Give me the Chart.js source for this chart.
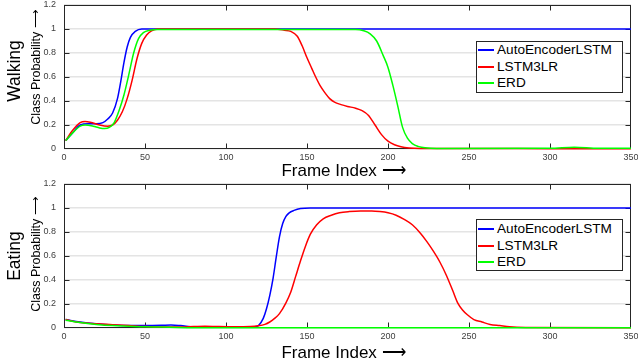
<!DOCTYPE html>
<html><head><meta charset="utf-8">
<script src="https://cdn.jsdelivr.net/npm/chart.js@4/dist/chart.umd.min.js"></script>
<style>
html,body{margin:0;padding:0;background:#fff;}
#wrap{position:relative;width:638px;height:364px;overflow:hidden;font-family:"Liberation Sans",Arial,Helvetica,sans-serif;}
canvas{position:absolute;left:0;}
.lbl{position:absolute;white-space:nowrap;color:#000;line-height:1;transform:translate(-50%,-50%);}
.rot{transform:translate(-50%,-50%) rotate(-90deg);}
.legend{position:absolute;left:476px;width:147px;height:52px;border:1px solid #262626;background:#fff;box-sizing:border-box;}
.row{position:absolute;left:0;height:16px;line-height:16px;font-size:13.6px;color:#000;white-space:nowrap;}
.sw{position:absolute;left:1px;top:7px;width:16px;height:2px;}
.tx{position:absolute;left:20px;top:0;}
</style></head>
<body>
<div id="wrap">
  <canvas id="c1" width="638" height="182" style="top:0"></canvas>
  <canvas id="c2" width="638" height="188" style="top:176px"></canvas>

  <div class="lbl rot" style="left:15px;top:71px;font-size:17.5px;">Walking</div>
  <div class="lbl rot" style="left:35.5px;top:67px;font-size:12.5px;">Class Probability ⟶</div>
  <div class="lbl" style="left:343.5px;top:170px;font-size:17px;">Frame Index ⟶</div>

  <div class="lbl rot" style="left:15px;top:256px;font-size:17.5px;">Eating</div>
  <div class="lbl rot" style="left:35.5px;top:253.5px;font-size:12.5px;">Class Probability ⟶</div>
  <div class="lbl" style="left:343.5px;top:351.5px;font-size:17px;">Frame Index ⟶</div>

  <div class="legend" style="top:41px;">
    <div class="row" style="top:0px;"><div class="sw" style="background:#0000ff"></div><span class="tx">AutoEncoderLSTM</span></div>
    <div class="row" style="top:16.7px;"><div class="sw" style="background:#ff0000"></div><span class="tx">LSTM3LR</span></div>
    <div class="row" style="top:33.3px;"><div class="sw" style="background:#00ff00"></div><span class="tx">ERD</span></div>
  </div>
  <div class="legend" style="top:219px;">
    <div class="row" style="top:0.5px;"><div class="sw" style="background:#0000ff"></div><span class="tx">AutoEncoderLSTM</span></div>
    <div class="row" style="top:17.5px;"><div class="sw" style="background:#ff0000"></div><span class="tx">LSTM3LR</span></div>
    <div class="row" style="top:34px;"><div class="sw" style="background:#00ff00"></div><span class="tx">ERD</span></div>
  </div>
</div>
<script>
// ---------- DATA ----------
const seriesNames = ["AutoEncoderLSTM", "LSTM3LR", "ERD"];
const xTicks = [0, 50, 100, 150, 200, 250, 300, 350];
const yTicks = [0, 0.2, 0.4, 0.6, 0.8, 1, 1.2];

// Walking
const walkBlueX = [1,5,10,15,20,24,27,30,33,35,37,39,41,44,48,60,350];
const walkBlueY = [0.07,0.13,0.2,0.21,0.21,0.22,0.25,0.3,0.42,0.56,0.72,0.85,0.93,0.98,1.0,1.0,1.0];

const walkRedX = [1,5,10,13,17,22,27,30,33,36,39,42,45,48,51,54,58,130,136,140,144,147,150,153,155,158,161,164,167,171,175,180,184,188,192,196,200,204,208,213,220,260,300,350];
const walkRedY = [0.07,0.15,0.22,0.23,0.22,0.2,0.19,0.2,0.24,0.31,0.42,0.57,0.75,0.88,0.95,0.985,1.0,1.0,0.99,0.98,0.94,0.86,0.76,0.67,0.61,0.53,0.47,0.42,0.39,0.37,0.355,0.34,0.32,0.28,0.2,0.12,0.065,0.035,0.018,0.008,0.004,0.004,0.003,0.003];

const walkGreenX = [1,5,10,13,18,22,25,28,31,34,37,40,43,46,49,53,58,180,185,189,193,197,200,203,206,209,212,215,219,223,230,300,315,330,350];
const walkGreenY = [0.07,0.13,0.19,0.2,0.19,0.175,0.17,0.18,0.22,0.32,0.45,0.62,0.8,0.92,0.97,0.99,0.995,0.995,0.985,0.96,0.9,0.78,0.68,0.53,0.36,0.18,0.09,0.045,0.02,0.01,0.005,0.006,0.015,0.006,0.006];

// Eating
const eatBlueX = [1,10,20,30,40,50,60,66,72,80,90,100,110,117,120,123,125,127,129,131,133,135,137,139,142,146,152,350];
const eatBlueY = [0.07,0.05,0.035,0.025,0.02,0.02,0.022,0.025,0.02,0.01,0.008,0.008,0.008,0.01,0.02,0.08,0.16,0.27,0.41,0.59,0.76,0.87,0.93,0.96,0.98,0.995,1.0,1.0];

const eatRedX = [1,10,20,30,40,50,60,70,80,87,95,105,115,120,124,127,130,133,137,140,143,146,149,152,156,160,165,170,176,183,190,195,200,205,210,215,220,224,228,232,236,240,243,246,249,253,258,263,269,275,285,350];
const eatRedY = [0.07,0.045,0.035,0.028,0.02,0.012,0.008,0.008,0.012,0.015,0.012,0.01,0.012,0.018,0.03,0.05,0.08,0.12,0.21,0.3,0.43,0.56,0.68,0.78,0.86,0.91,0.94,0.96,0.97,0.975,0.975,0.97,0.96,0.94,0.905,0.86,0.79,0.72,0.64,0.55,0.44,0.31,0.21,0.15,0.11,0.07,0.05,0.03,0.02,0.01,0.005,0.003];

const eatGreenX = [1,10,20,30,40,50,60,70,80,350];
const eatGreenY = [0.065,0.045,0.03,0.02,0.015,0.01,0.008,0.004,0.002,0.002];

const colors = {blue:"#0000ff", red:"#ff0000", green:"#00ff00"};

// ---------- HELPERS ----------
function pts(xs, ys){ return xs.map((x,i)=>({x:x, y:ys[i]})); }

const framePlugin = {
  id: 'frame',
  beforeDatasetsDraw(chart){
    const {ctx, chartArea:a, scales:{x, y}} = chart;
    ctx.save();
    ctx.strokeStyle = '#262626';
    ctx.lineWidth = 1;
    const L = Math.round(a.left)+0.5, R = Math.round(a.right)-0.5;
    const T = Math.round(a.top)+0.5, B = Math.round(a.bottom)-0.5;
    ctx.strokeRect(L, T, R-L, B-T);
    ctx.beginPath();
    xTicks.forEach(v=>{
      const p = Math.round(x.getPixelForValue(v))+0.5;
      if (p > L+1 && p < R-1){
        ctx.moveTo(p, B); ctx.lineTo(p, B-5);
        ctx.moveTo(p, T); ctx.lineTo(p, T+5);
      }
    });
    yTicks.forEach(v=>{
      const p = Math.round(y.getPixelForValue(v))+0.5;
      if (p > T+1 && p < B-1){
        ctx.moveTo(L, p); ctx.lineTo(L+5, p);
        ctx.moveTo(R, p); ctx.lineTo(R-5, p);
      }
    });
    ctx.stroke();
    ctx.restore();
  }
};

function makeChart(id, blue, red, green, padTop, xHeight){
  const ds = (label, data, color)=>({
    label, data, borderColor: color, backgroundColor: color,
    borderWidth: 1.5, pointRadius: 0, fill: false, clip: 2,
    cubicInterpolationMode: 'monotone'
  });
  return new Chart(document.getElementById(id), {
    type: 'line',
    data: {
      datasets: [
        ds(seriesNames[2], green, colors.green),
        ds(seriesNames[1], red, colors.red),
        ds(seriesNames[0], blue, colors.blue)
      ]
    },
    options: {
      responsive: false,
      animation: false,
      layout: { padding: { left: 0, right: 7, top: padTop, bottom: 0 } },
      plugins: { legend: { display: false }, tooltip: { enabled: false } },
      scales: {
        x: {
          type: 'linear', min: 0, max: 350,
          afterBuildTicks: s => { s.ticks = xTicks.map(v=>({value:v})); },
          ticks: { font: { family: '"Liberation Sans", Arial, sans-serif', size: 9 }, color: '#404040', padding: 3, maxRotation: 0 },
          grid: { display: false, drawTicks: false },
          border: { display: false },
          afterFit: s => { s.height = xHeight; s.paddingLeft = 0; s.paddingRight = 0; }
        },
        y: {
          type: 'linear', min: 0, max: 1.2,
          afterBuildTicks: s => { s.ticks = yTicks.map(v=>({value:v})); },
          ticks: {
            font: { family: '"Liberation Sans", Arial, sans-serif', size: 9 }, color: '#404040', padding: 8,
            callback: v => String(+(+v).toFixed(1))
          },
          grid: { display: true, drawTicks: false, color: '#e4e4e4', lineWidth: 1.5 },
          border: { display: false },
          afterFit: s => { s.width = 64; s.paddingTop = 0; s.paddingBottom = 0; }
        }
      }
    },
    plugins: [framePlugin]
  });
}

makeChart('c1', pts(walkBlueX, walkBlueY), pts(walkRedX, walkRedY), pts(walkGreenX, walkGreenY), 5, 33);
makeChart('c2', pts(eatBlueX, eatBlueY), pts(eatRedX, eatRedY), pts(eatGreenX, eatGreenY), 8, 36);
</script>
</body></html>
